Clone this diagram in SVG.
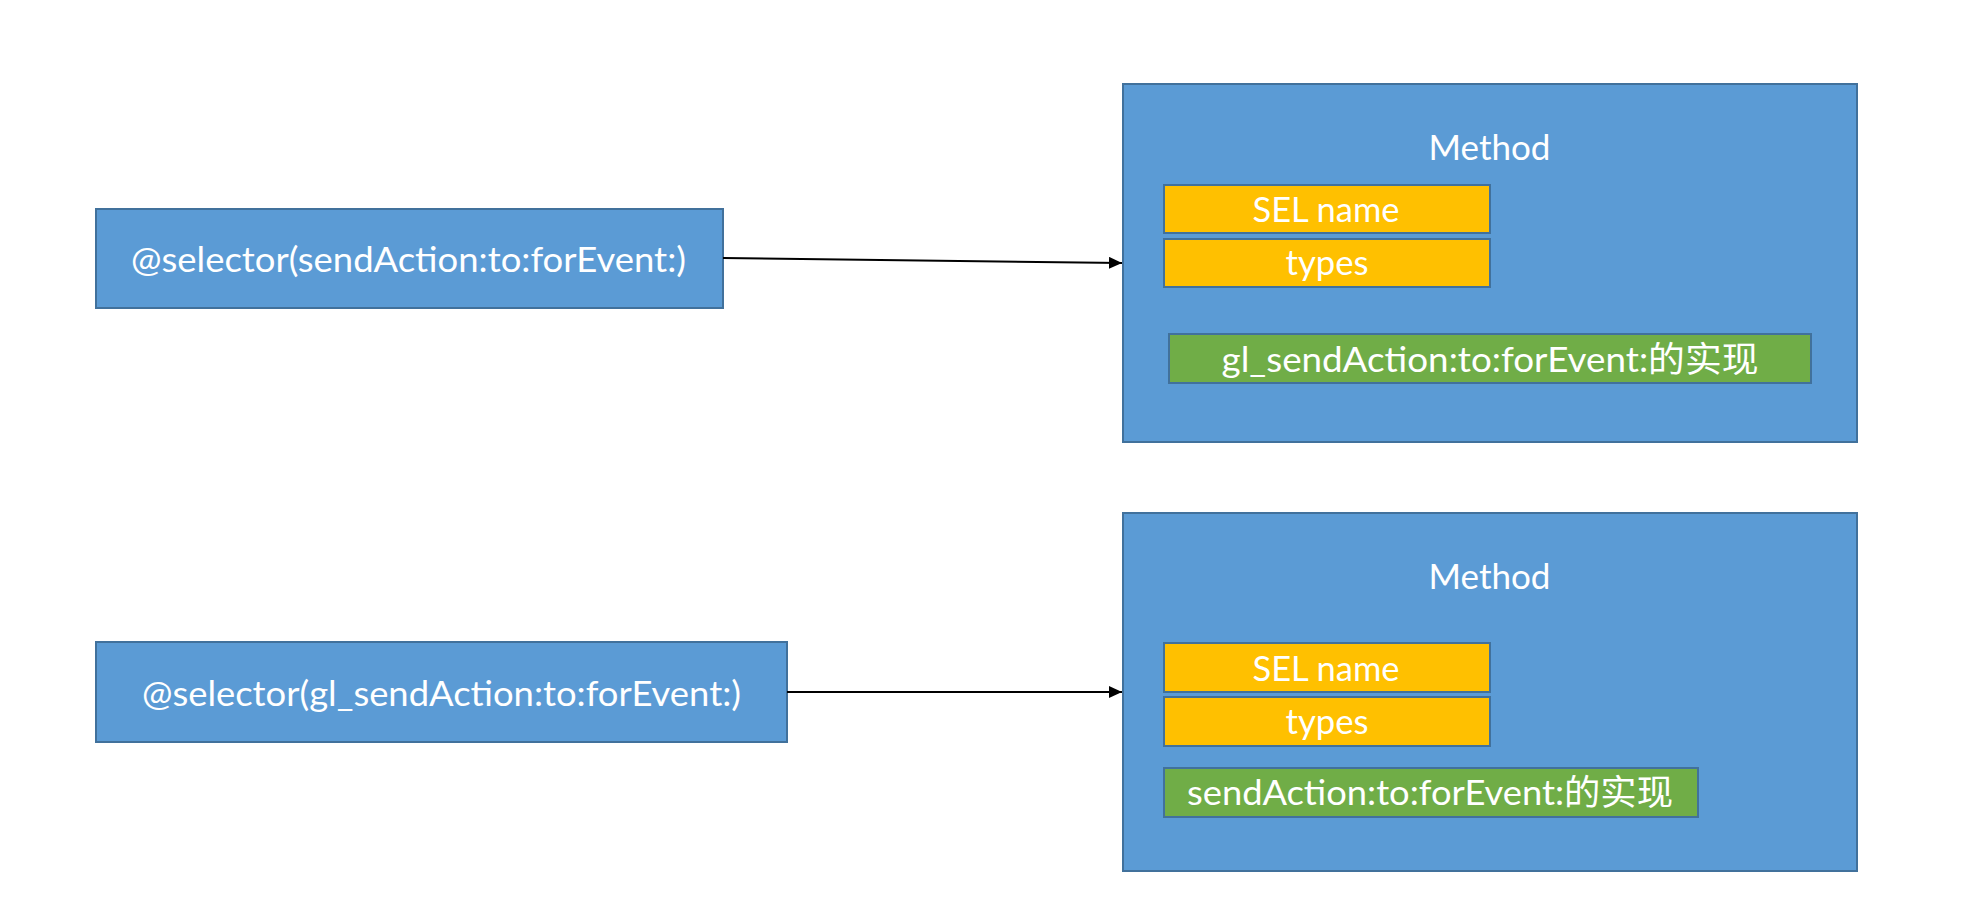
<svg xmlns="http://www.w3.org/2000/svg" width="1974" height="910" viewBox="0 0 1974 910">
  <defs>
    <marker id="arrow" markerUnits="userSpaceOnUse" markerWidth="13" markerHeight="12" refX="13" refY="6" orient="auto">
      <path d="M0,0 L13,6 L0,12 z" fill="#000000"/>
    </marker>
    <style>
      .blue { fill: #5B9BD5; stroke: #41719C; stroke-width: 2; }
      .yellow { fill: #FFC000; stroke: #41719C; stroke-width: 2; }
      .green { fill: #70AD47; stroke: #41719C; stroke-width: 2; }
      .lbl { fill: #FFFFFF; font-family: "Lato", "Noto Sans CJK SC", sans-serif; font-size: 35px; text-anchor: middle; }
      .conn { fill: none; stroke: #000000; stroke-width: 2; }
    </style>
  </defs>
  <rect x="0" y="0" width="1974" height="910" fill="#FFFFFF"/>

  <g id="selector1">
    <rect class="blue" x="96" y="209" width="627" height="99"/>
    <text class="lbl" x="408.5" y="272" textLength="555" lengthAdjust="spacingAndGlyphs">@selector(sendAction:to:forEvent:)</text>
  </g>

  <g id="selector2">
    <rect class="blue" x="96" y="642" width="691" height="100"/>
    <text class="lbl" x="441.5" y="706" textLength="599" lengthAdjust="spacingAndGlyphs">@selector(gl_sendAction:to:forEvent:)</text>
  </g>

  <g id="method1">
    <rect class="blue" x="1123" y="84" width="734" height="358"/>
    <text class="lbl" x="1489.5" y="160" textLength="122" lengthAdjust="spacingAndGlyphs">Method</text>
    <g id="method1-sel">
      <rect class="yellow" x="1164" y="185" width="326" height="48"/>
      <text class="lbl" x="1326" y="222" textLength="147" lengthAdjust="spacingAndGlyphs">SEL name</text>
    </g>
    <g id="method1-types">
      <rect class="yellow" x="1164" y="239" width="326" height="48"/>
      <text class="lbl" x="1327" y="275" textLength="83" lengthAdjust="spacingAndGlyphs">types</text>
    </g>
    <g id="method1-imp">
      <rect class="green" x="1169" y="334" width="642" height="49"/>
      <text class="lbl" x="1490" y="372" textLength="537" lengthAdjust="spacingAndGlyphs">gl_sendAction:to:forEvent:的实现</text>
    </g>
  </g>

  <g id="method2">
    <rect class="blue" x="1123" y="513" width="734" height="358"/>
    <text class="lbl" x="1489.5" y="589" textLength="122" lengthAdjust="spacingAndGlyphs">Method</text>
    <g id="method2-sel">
      <rect class="yellow" x="1164" y="643" width="326" height="49"/>
      <text class="lbl" x="1326" y="681" textLength="147" lengthAdjust="spacingAndGlyphs">SEL name</text>
    </g>
    <g id="method2-types">
      <rect class="yellow" x="1164" y="697" width="326" height="49"/>
      <text class="lbl" x="1327" y="734" textLength="83" lengthAdjust="spacingAndGlyphs">types</text>
    </g>
    <g id="method2-imp">
      <rect class="green" x="1164" y="768" width="534" height="49"/>
      <text class="lbl" x="1430" y="805" textLength="486" lengthAdjust="spacingAndGlyphs">sendAction:to:forEvent:的实现</text>
    </g>
  </g>

  <g id="connectors">
    <line class="conn" x1="723" y1="258" x2="1122" y2="263" marker-end="url(#arrow)"/>
    <line class="conn" x1="787" y1="692" x2="1122" y2="692" marker-end="url(#arrow)"/>
  </g>
</svg>
